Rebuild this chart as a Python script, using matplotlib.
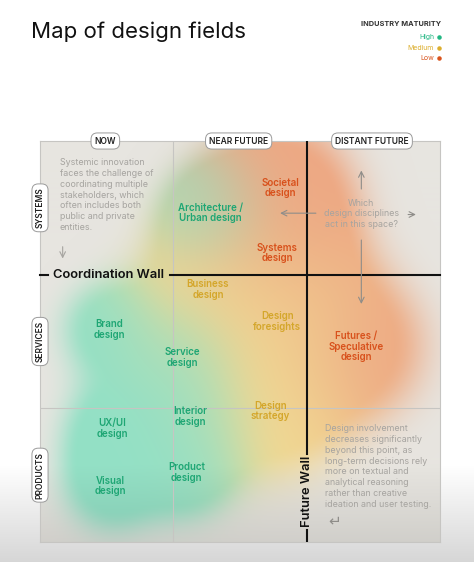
import numpy as np
import matplotlib.pyplot as plt
from matplotlib.colors import to_rgb

plt.rcParams['font.family'] = ['Inter', 'DejaVu Sans']

# ---- chart content -------------------------------------------------------
TITLE = 'Map of design fields'
HORIZONS = ['NOW', 'NEAR FUTURE', 'DISTANT FUTURE']
SCALES = ['PRODUCTS', 'SERVICES', 'SYSTEMS']
MATURITY_LEVELS = ['High', 'Medium', 'Low']

FIELDS = ['Architecture /\nUrban design', 'Societal\ndesign', 'Systems\ndesign',
          'Business\ndesign', 'Design\nforesights', 'Brand\ndesign',
          'Service\ndesign', 'Futures /\nSpeculative\ndesign', 'UX/UI\ndesign',
          'Interior\ndesign', 'Design\nstrategy', 'Visual\ndesign',
          'Product\ndesign']
FIELD_HORIZON = [1.28, 1.80, 1.78, 1.26, 1.78, 0.52, 1.07, 2.37, 0.54, 1.13,
                 1.73, 0.53, 1.10]
FIELD_SCALE = [2.46, 2.65, 2.16, 1.89, 1.65, 1.59, 1.38, 1.46, 0.85, 0.94,
               0.98, 0.42, 0.52]
FIELD_MATURITY = ['High', 'Low', 'Low', 'Medium', 'Medium', 'High', 'High',
                  'Low', 'High', 'High', 'Medium', 'High', 'High']

COORDINATION_WALL = 2.0   # on the scale axis
FUTURE_WALL = 2.0         # on the horizon axis

NOTE_SYSTEMS = ('Systemic innovation\nfaces the challenge of\ncoordinating multiple\n'
                'stakeholders, which\noften includes both\npublic and private\nentities.')
NOTE_QUESTION = 'Which\ndesign disciplines\nact in this space?'
NOTE_FUTURE = ('Design involvement\ndecreases significantly\nbeyond this point, as\n'
               'long-term decisions rely\nmore on textual and\nanalytical reasoning\n'
               'rather than creative\nideation and user testing.')

# ---- styles --------------------------------------------------------------
TEXT_COLOR = {'High': '#1ea674', 'Medium': '#d4a62a', 'Low': '#d8511c'}
DOT_COLOR = {'High': '#22b783', 'Medium': '#dcae2e', 'Low': '#d9531c'}
BLOB_COLOR = {'High': '#8ee0c4', 'Medium': '#f2d98e', 'Low': '#eea47e'}
BLOB_SIGMA = {'High': 0.26, 'Medium': 0.39, 'Low': 0.39}
PANEL_BG = '#e7e5e0'
GREY_TEXT = '#a6a4a0'

W, H = 474, 562
fig = plt.figure(figsize=(W / 100, H / 100), dpi=100)

# page background with a soft grey fade at the bottom
bg = fig.add_axes([0, 0, 1, 1])
bg.set_xlim(0, W)
bg.set_ylim(H, 0)
bg.axis('off')
rows = np.arange(H)
shade = np.clip((rows - 465) / (H - 465), 0, 1) * 0.16
page = np.ones((H, 1, 3)) * (1 - shade)[:, None, None]
bg.imshow(np.repeat(page, 2, axis=1), extent=(0, W, H, 0), aspect='auto', zorder=0)

# title + maturity legend
fig.text(31 / W, 1 - 37.5 / H, TITLE, fontsize=16, color='#111111',
         va='baseline', ha='left')
fig.text(441 / W, 1 - 23.5 / H, 'INDUSTRY MATURITY', fontsize=5.3,
         weight='bold', color='#333333', ha='right', va='center')
for i, level in enumerate(MATURITY_LEVELS):
    y = 37 + i * 10.5
    bg.text(434, y, level, fontsize=5.0, color=DOT_COLOR[level], ha='right', va='center')
    bg.scatter([439], [y], s=5, color=DOT_COLOR[level], zorder=3)

# ---- main panel ----------------------------------------------------------
ax = fig.add_axes([40 / W, 20 / H, 400 / W, 401 / H])
ax.set_xlim(0, 3)
ax.set_ylim(0, 3)
ax.set_xticks([])
ax.set_yticks([])
for s in ax.spines.values():
    s.set_color('#c6c5c2')
    s.set_linewidth(0.8)

# maturity clouds around each field
n = 400
gx, gy = np.meshgrid(np.linspace(0, 3, n), np.linspace(3, 0, n))
acc = np.zeros((n, n, 3))
wsum = np.zeros((n, n))
for hx, sy, lvl in zip(FIELD_HORIZON, FIELD_SCALE, FIELD_MATURITY):
    w = np.exp(-((gx - hx) ** 2 + (gy - sy) ** 2) / (2 * BLOB_SIGMA[lvl] ** 2))
    acc += w[..., None] * np.array(to_rgb(BLOB_COLOR[lvl]))
    wsum += w
col = acc / np.maximum(wsum, 1e-9)[..., None]
t = np.clip((wsum - 0.04) / (0.9 - 0.04), 0, 1)
alpha = (0.94 * t * t * (3 - 2 * t))[..., None]
img = np.array(to_rgb(PANEL_BG)) * (1 - alpha) + col * alpha
# match the page fade near the bottom of the panel
py = 542 - gy * 401 / 3
fade = 1 - np.clip((py - 465) / (H - 465), 0, 1) * 0.12
img = img * fade[..., None]
ax.imshow(img, extent=(0, 3, 0, 3), aspect='auto', zorder=0, interpolation='bilinear')

# light grid
ax.axvline(1, color='#c6c5c2', lw=0.8, zorder=1)
ax.axhline(1, color='#c6c5c2', lw=0.8, zorder=1)

# the two walls
ax.plot([0, 0.06], [COORDINATION_WALL] * 2, color='#111111', lw=1.5, zorder=3, clip_on=False)
ax.plot([0.975, 3.0], [COORDINATION_WALL] * 2, color='#111111', lw=1.5, zorder=3, clip_on=False)
ax.text(0.1, COORDINATION_WALL, 'Coordination Wall', fontsize=9.3, weight='semibold',
        color='#111111', ha='left', va='center', zorder=4)
ax.plot([FUTURE_WALL] * 2, [0.66, 3.0], color='#111111', lw=1.5, zorder=3)
ax.plot([FUTURE_WALL] * 2, [0.0, 0.09], color='#111111', lw=1.5, zorder=3)
ax.text(FUTURE_WALL, 0.38, 'Future Wall', fontsize=9.3, weight='semibold',
        color='#111111', ha='center', va='center', rotation=90, zorder=4)

# pills for horizons and scales
pill = dict(boxstyle='round,pad=0.42,rounding_size=0.75', fc='white',
            ec='#9b9b9b', lw=0.7)
for i, h in enumerate(HORIZONS):
    ax.text(i + 0.49, 3.0, h, fontsize=6.1, weight='semibold', color='#222222',
            ha='center', va='center', bbox=pill, zorder=5, clip_on=False)
for i, s in enumerate(SCALES):
    ax.text(0.0, i + 0.5, s, fontsize=6.1, weight='semibold', color='#222222',
            rotation=90, ha='center', va='center', bbox=pill, zorder=5, clip_on=False)

# field labels
for name, hx, sy, lvl in zip(FIELDS, FIELD_HORIZON, FIELD_SCALE, FIELD_MATURITY):
    ax.text(hx, sy, name, fontsize=7, weight='semibold', color=TEXT_COLOR[lvl],
            ha='center', va='center', linespacing=1.05, zorder=4)

# side notes
ax.text(0.15, 2.87, NOTE_SYSTEMS, fontsize=6.4, color=GREY_TEXT, ha='left',
        va='top', linespacing=1.25, zorder=4)
ax.annotate('', xy=(0.17, 2.10), xytext=(0.17, 2.23),
            arrowprops=dict(arrowstyle='->', color=GREY_TEXT, lw=0.8))
ax.text(2.41, 2.455, NOTE_QUESTION, fontsize=6.4, color=GREY_TEXT, ha='center',
        va='center', linespacing=1.2, zorder=4)
arrow = dict(arrowstyle='->', color='#8f8d89', lw=0.8)
ax.annotate('', xy=(2.41, 2.80), xytext=(2.41, 2.62), arrowprops=arrow)
ax.annotate('', xy=(1.78, 2.46), xytext=(2.09, 2.46), arrowprops=arrow)
ax.annotate('', xy=(2.84, 2.45), xytext=(2.74, 2.45), arrowprops=arrow)
ax.annotate('', xy=(2.41, 1.76), xytext=(2.41, 2.28), arrowprops=arrow)
ax.text(2.14, 0.88, NOTE_FUTURE, fontsize=6.4, color=GREY_TEXT, ha='left',
        va='top', linespacing=1.25, zorder=4)
ax.text(2.21, 0.16, '\u21b5', fontsize=11, color='#8f8d89', ha='center',
        va='center', family=['DejaVu Sans'], zorder=4)

fig.savefig('out.png', dpi=100)
